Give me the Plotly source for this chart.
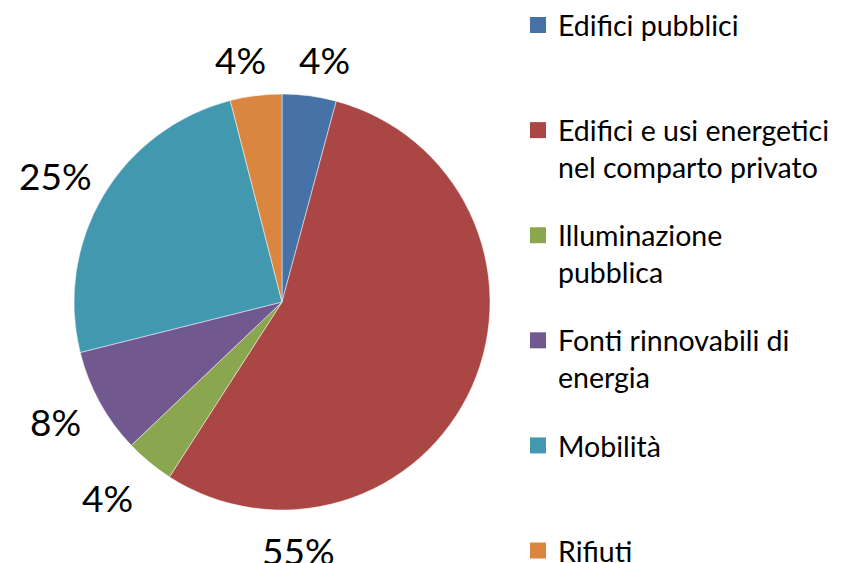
import plotly.graph_objects as go

W, H = 843, 563

# data
labels = ["Edifici pubblici", "Edifici e usi energetici<br>nel comparto privato",
          "Illuminazione<br>pubblica", "Fonti rinnovabili di<br>energia",
          "Mobilità", "Rifiuti"]
values = [4.2, 54.9, 3.8, 8.2, 24.9, 4.0]
colors = ["#4672A8", "#AA4644", "#8AA64E", "#71588F", "#4198AF", "#DA8640"]

# label centres in pixels (Excel "best fit" placement)
label_px = [(324, 59), (298, 550), (107, 497), (55, 421), (56, 175), (240, 59)]

total = sum(values)
pct = [f"{round(v / total * 100)}%" for v in values]

fig = go.Figure()
fig.add_trace(go.Pie(
    labels=labels,
    values=values,
    sort=False,
    direction="clockwise",
    rotation=0,
    marker=dict(colors=colors, line=dict(color="rgba(255,255,255,0.6)", width=0.8)),
    textinfo="none",
    hoverinfo="label+percent",
    showlegend=False,
    domain=dict(x=[74 / W, 490 / W], y=[(H - 510) / H, (H - 94) / H]),
))

# legend entries (Excel style: square swatch, evenly spaced, 2 text lines each)
for i, (lab, col) in enumerate(zip(labels, colors)):
    name = lab if "<br>" in lab else lab + "<br>\u00a0"
    fig.add_trace(go.Scatter(
        x=[None], y=[None], mode="markers", name=name,
        marker=dict(symbol="square", size=16, color=col),
        legendgroup=f"g{i}", showlegend=True, hoverinfo="skip",
    ))

for (px, py), t in zip(label_px, pct):
    fig.add_annotation(x=px / W, y=1 - py / H, xref="paper", yref="paper",
                       text=t, showarrow=False, xanchor="center", yanchor="middle",
                       font=dict(family="Lato", size=37, color="#000000"))

fig.update_layout(
    width=W, height=H,
    margin=dict(l=0, r=0, t=0, b=0),
    paper_bgcolor="white",
    plot_bgcolor="white",
    xaxis=dict(visible=False),
    yaxis=dict(visible=False),
    font=dict(family="Lato", color="#000000"),
    legend=dict(x=518 / W, y=1.0, xanchor="left", yanchor="top",
                valign="top", tracegroupgap=28, maxheight=800,
                itemsizing="trace",
                font=dict(family="Lato", size=28.5, color="#000000"),
                bgcolor="rgba(0,0,0,0)"),
)

fig.write_html("out.html", config={"displayModeBar": False},
               post_script="document.body.style.margin='0';")
